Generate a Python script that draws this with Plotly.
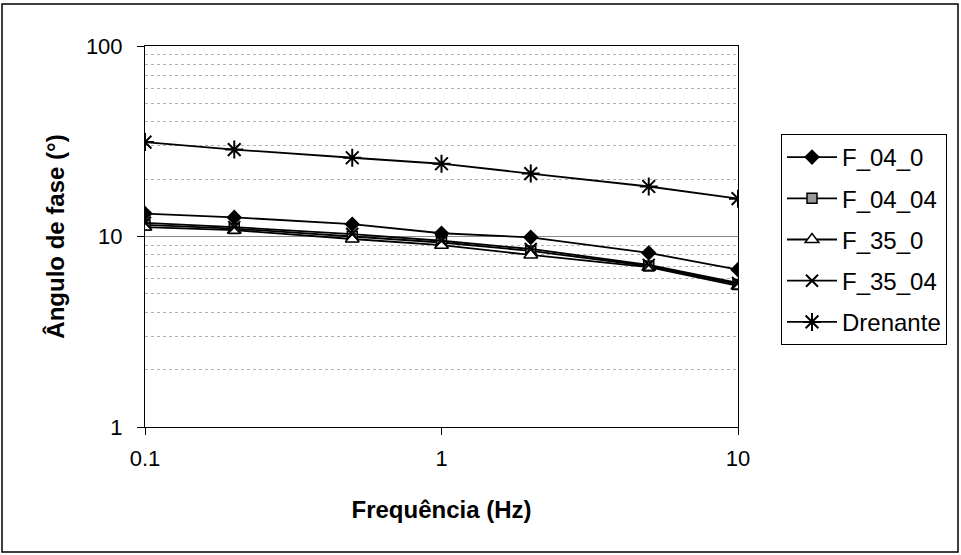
import plotly.graph_objects as go

freq = [0.1, 0.2, 0.5, 1, 2, 5, 10]
F_04_0 = [13.2, 12.6, 11.6, 10.4, 9.9, 8.2, 6.7]
F_04_04 = [11.5, 11.0, 10.0, 9.3, 8.4, 7.0, 5.6]
F_35_0 = [11.2, 10.8, 9.7, 9.0, 8.0, 6.9, 5.5]
F_35_04 = [11.8, 11.2, 10.3, 9.5, 8.6, 7.1, 5.7]
Drenante = [31.3, 28.6, 25.9, 24.1, 21.4, 18.3, 15.8]

series = [
    ("F_04_0", F_04_0, dict(symbol="diamond", size=12, color="black")),
    ("F_04_04", F_04_04, dict(symbol="square", size=10, color="#9a9a9a", line=dict(color="black", width=1.5))),
    ("F_35_0", F_35_0, dict(symbol="triangle-up", size=12, color="white", line=dict(color="black", width=1.5))),
    ("F_35_04", F_35_04, dict(symbol="x-thin", size=12, color="black", line=dict(color="black", width=2))),
    ("Drenante", Drenante, dict(symbol="asterisk", size=15, color="black", line=dict(color="black", width=2))),
]

fig = go.Figure()
for i, (name, vals, mk) in enumerate(series):
    fig.add_trace(go.Scatter(
        x=freq, y=vals, name=name, mode="lines+markers",
        line=dict(color="black", width=1.8), marker=mk,
        legendgroup=f"g{i}",
    ))

font = "Liberation Sans, Arial, sans-serif"
L, R, T, B = 145, 223, 46, 128
W, H = 961, 555
pw, ph = W - L - R, H - T - B

def px_x(p):
    return (p - L) / pw

def px_y(p):
    return (H - B - p) / ph

fig.update_layout(
    width=W, height=H,
    margin=dict(l=L, r=R, t=T, b=B),
    paper_bgcolor="white", plot_bgcolor="white",
    font=dict(family=font, size=22, color="black"),
    showlegend=True,
    legend=dict(
        x=px_x(781), y=px_y(134), xanchor="left", yanchor="top",
        bordercolor="black", borderwidth=1, bgcolor="white",
        font=dict(family=font, size=24, color="black"),
        tracegroupgap=7, itemwidth=50,
    ),
    xaxis=dict(
        type="log", range=[-1, 1],
        tickvals=[0.1, 1, 10], ticktext=["0.1", "1", "10"],
        ticks="outside", ticklen=7, tickcolor="black",
        tickfont=dict(size=22), ticklabelstandoff=5,
        showline=True, linecolor="black", linewidth=1, mirror=True,
        showgrid=False, zeroline=False,
        title=dict(text="<b>Frequência (Hz)</b>", font=dict(family=font, size=24), standoff=30),
    ),
    yaxis=dict(
        type="log", range=[0, 2],
        tickvals=[1, 10, 100], ticktext=["1", "10", "100"],
        ticks="outside", ticklen=7, tickcolor="black",
        tickfont=dict(size=22), ticklabelstandoff=10,
        showline=True, linecolor="black", linewidth=1, mirror=True,
        showgrid=True, gridcolor="#8a8a8a", gridwidth=1,
        zeroline=False,
        minor=dict(dtick="D1", showgrid=True, gridcolor="#b0b0b0", griddash="dot", gridwidth=1, ticks=""),
        title=dict(text="<b>Ângulo de fase (°)</b>", font=dict(family=font, size=24), standoff=14),
    ),
)

fig.add_shape(type="rect", xref="paper", yref="paper",
              x0=px_x(2), x1=px_x(958), y0=px_y(552), y1=px_y(4),
              line=dict(color="black", width=1.5), fillcolor="rgba(0,0,0,0)", layer="below")

fig.write_html("out.html", config={"displayModeBar": False},
               post_script="document.body.style.margin='0';")
